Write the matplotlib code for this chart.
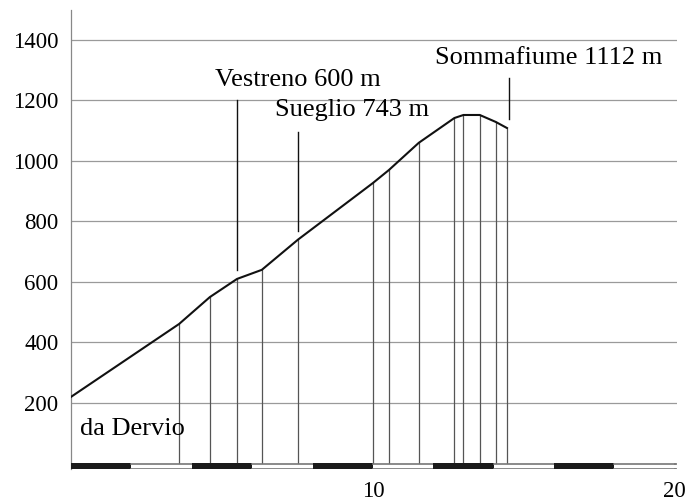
import matplotlib.pyplot as plt
import matplotlib.patches as mpatches

# profile data (km, m)
km = [0.0, 3.58, 4.6, 5.5, 6.32, 7.52, 10.0, 10.53, 11.52, 12.7, 13.0, 13.54, 14.07, 14.44]
elev = [220, 461, 550, 610, 640, 740, 927, 970, 1060, 1142, 1152, 1152, 1129, 1109]

y_ticks = [200, 400, 600, 800, 1000, 1200, 1400]
x_ticks = [10, 20]

# place labels and their marker lines
place_labels = ['Vestreno 600 m', 'Sueglio 743 m', 'Sommafiume 1112 m']
place_km = [5.5, 7.52, 14.5]
place_line_top = [1200, 1095, 1275]
place_line_bottom = [640, 770, 1140]

scale_edges = [0, 2, 4, 6, 8, 10, 12, 14, 16, 18, 20]

plt.rcParams['font.family'] = ['Liberation Serif', 'DejaVu Serif']

fig = plt.figure(figsize=(6.9, 5.04), dpi=100)
ax = fig.add_axes([0.1029, 0.0685, 0.981 - 0.1029, 0.9807 - 0.0685])

ax.set_xlim(0, 20.07)
ax.set_ylim(-20, 1500)

# grid lines
for y in y_ticks:
    ax.axhline(y, color='#9a9a9a', lw=0.9, zorder=1)

# drop lines from each profile point
for x, y in zip(km[1:], elev[1:]):
    ax.plot([x, x], [0, y], color='#555555', lw=0.9, zorder=2)

ax.plot(km, elev, color='#111111', lw=1.5, zorder=3)

# scale bar
for i in range(len(scale_edges) - 1):
    x0 = scale_edges[i]
    w = scale_edges[i + 1] - x0
    if i % 2 == 0:
        rect = mpatches.Rectangle((x0, -19), w, 19, facecolor='#1a1a1a', edgecolor='none', zorder=4)
        ax.add_patch(rect)
    else:
        ax.plot([x0, x0 + w], [-17, -17], color='#777777', lw=1.2, zorder=4)
        ax.plot([x0, x0 + w], [-2, -2], color='#777777', lw=1.2, zorder=4)
ax.plot([20, 20.07], [-17, -17], color='#777777', lw=1.2, zorder=4)
ax.plot([20, 20.07], [-2, -2], color='#777777', lw=1.2, zorder=4)

# place labels
for x, top, bot in zip(place_km, place_line_top, place_line_bottom):
    ax.plot([x, x], [bot, top], color='#111111', lw=1.0, zorder=3)
ax.text(4.77, 1248, place_labels[0], fontsize=19, ha='left', va='baseline')
ax.text(6.75, 1150, place_labels[1], fontsize=19, ha='left', va='baseline')
ax.text(12.05, 1322, place_labels[2], fontsize=19, ha='left', va='baseline')
ax.text(0.3, 95, 'da Dervio', fontsize=19, ha='left', va='baseline')

for spine in ['top', 'right', 'bottom']:
    ax.spines[spine].set_visible(False)
ax.spines['left'].set_color('#888888')
ax.spines['left'].set_linewidth(0.9)

ax.set_yticks(y_ticks)
ax.set_xticks(x_ticks)
ax.tick_params(length=0, labelsize=16.5)
ax.tick_params(axis='y', pad=9)
ax.tick_params(axis='x', pad=8)

fig.savefig('out.png', dpi=100)
